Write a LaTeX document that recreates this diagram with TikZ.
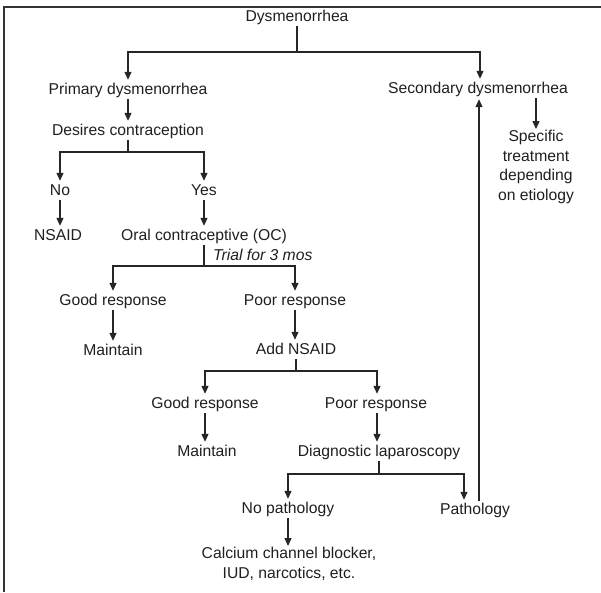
\documentclass[tikz,border=0pt]{standalone}
\usepackage{fontspec}
\setmainfont{Liberation Sans}
\usetikzlibrary{arrows.meta}
\begin{document}
\begin{tikzpicture}[x=1pt,y=-1pt,
  txt/.style={font=\fontsize{15.7}{19.5}\selectfont, text height=11pt, text depth=3pt, inner sep=2pt, text=black!88},
  multi/.style={font=\fontsize{15.7}{19.5}\selectfont, align=center, inner sep=0pt, anchor=north, text=black!88},
  conn/.style={line width=1.2pt, draw=black!85},
  arr/.style={conn, -{Triangle[length=8pt,width=7pt]}, shorten >=1pt},
]
\useasboundingbox (0,0) rectangle (601,592);

% frame
\draw[line width=1.4pt, black!80] (601,7) -- (4,7) -- (4,592);

% nodes
\node[txt] (dys)    at (297,17)  {Dysmenorrhea};
\node[txt] (prim)   at (128,90)  {Primary dysmenorrhea};
\node[txt] (sec)    at (478,89)  {Secondary dysmenorrhea};
\node[multi] (spec) at (536,130) {Specific\\treatment\\depending\\on etiology};
\node[txt] (desire) at (128,131) {Desires contraception};
\node[txt] (no)     at (60,191)  {No};
\node[txt] (yes)    at (204,191) {Yes};
\node[txt] (nsaid)  at (58,236)  {NSAID};
\node[txt] (oc)     at (204,236) {Oral contraceptive (OC)};
\node[font=\fontsize{15.7}{19.5}\selectfont\itshape, inner sep=0pt, anchor=base west, text=black!88] (trial) at (213,260.5) {Trial for 3 mos};
\node[txt] (goodA)  at (113,301) {Good response};
\node[txt] (poorA)  at (295,301) {Poor response};
\node[txt] (maintA) at (113,351) {Maintain};
\node[txt] (addn)   at (296,350) {Add NSAID};
\node[txt] (goodB)  at (205,404) {Good response};
\node[txt] (poorB)  at (376,404) {Poor response};
\node[txt] (maintB) at (207,452) {Maintain};
\node[txt] (diag)   at (379,452) {Diagnostic laparoscopy};
\node[txt] (nopath) at (288,509) {No pathology};
\node[txt] (path)   at (475,510) {Pathology};
\node[multi] (calc) at (289,547) {Calcium channel blocker,\\IUD, narcotics, etc.};

% branch points
\coordinate (bDys) at (297,52);
\coordinate (bDes) at (128,152);
\coordinate (bOC)  at (204,266);
\coordinate (bAdd) at (296,371);
\coordinate (bDia) at (379,474);

% connectors
\draw[conn] (dys.south) -- (bDys);
\draw[arr] (bDys) -| (prim.north);
\draw[arr] (bDys) -| ([xshift=2pt]sec.north);
\draw[arr] (spec.north |- sec.south) -- (spec.north);
\draw[arr] (prim.south) -- (desire.north);
\draw[conn] (desire.south) -- (bDes);
\draw[arr] (bDes) -| (no.north);
\draw[arr] (bDes) -| (yes.north);
\draw[arr] (no.south -| 60,0) -- (nsaid.north -| 60,0);
\draw[arr] (yes.south) -- (oc.north);
\draw[conn] (oc.south) -- (bOC);
\draw[arr] (bOC) -| (goodA.north);
\draw[arr] (bOC) -| (poorA.north);
\draw[arr] (goodA.south) -- (maintA.north);
\draw[arr] (poorA.south) -- (poorA.south |- addn.north);
\draw[conn] (addn.south) -- (bAdd);
\draw[arr] (bAdd) -| (goodB.north);
\draw[arr] (bAdd) -| ([xshift=1pt]poorB.north);
\draw[arr] (goodB.south) -- (goodB.south |- maintB.north);
\draw[arr] ([xshift=1pt]poorB.south) -- ([xshift=1pt]poorB.south |- diag.north);
\draw[conn] (diag.south -| bDia) -- (bDia);
\draw[arr] (bDia) -| (nopath.north);
\draw[arr] (bDia) -| ([xshift=-11pt]path.north);
\draw[arr] (nopath.south) -- (nopath.south |- calc.north);
\draw[arr] ([xshift=1pt]sec.south |- path.north) -- ([xshift=1pt]sec.south);
\end{tikzpicture}
\end{document}
